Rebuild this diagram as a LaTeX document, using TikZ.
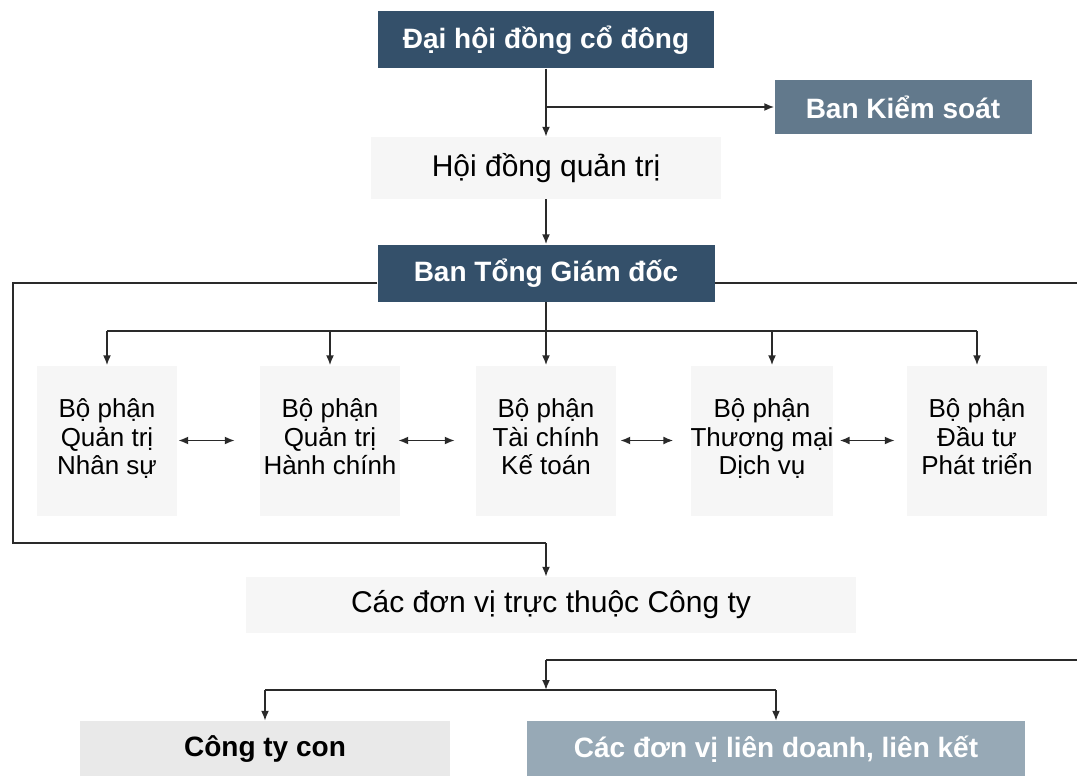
\documentclass[tikz,border=0pt]{standalone}
\usepackage{fontspec}
\setmainfont{Liberation Sans}
\usetikzlibrary{arrows.meta,calc}
\definecolor{navy}{HTML}{34506A}
\definecolor{steel}{HTML}{62798C}
\definecolor{paleblue}{HTML}{97A9B6}
\definecolor{lightgrey}{HTML}{E9E9E9}
\definecolor{faint}{HTML}{F6F6F6}
\definecolor{linec}{HTML}{2A2A2A}
\newcommand{\lastdepth}{\rule[-7pt]{0pt}{7pt}}
\begin{document}
\begin{tikzpicture}[x=1pt,y=-1pt,
  conn/.style={draw=linec, line width=1.8pt},
  arr/.style={conn,-{Latex[length=10pt,width=8pt]}},
  darr/.style={conn,{Latex[length=10pt,width=8pt]}-{Latex[length=10pt,width=8pt]}},
  boldtxt/.style={font=\bfseries\fontsize{28}{32}\selectfont},
  darkbox/.style={rectangle, fill=navy, text=white, boldtxt, inner sep=0pt},
  midbox/.style={rectangle, fill=steel, text=white, boldtxt, inner sep=0pt},
  paleboxw/.style={rectangle, fill=paleblue, text=white, boldtxt, inner sep=0pt},
  greybox/.style={rectangle, fill=lightgrey, text=black, boldtxt, inner sep=0pt},
  plainbox/.style={rectangle, fill=faint, text=black, font=\fontsize{30}{34}\selectfont, inner sep=0pt},
  dept/.style={rectangle, fill=faint, text=black, align=center, font=\fontsize{26}{28.5}\selectfont,
    minimum width=140pt, minimum height=150pt, inner sep=0pt}
]
\useasboundingbox[fill=white] (0,0) rectangle (1077,776);

% main nodes
\node[darkbox, minimum width=336pt, minimum height=57pt] (dhd) at (546,40) {Đại hội đồng cổ đông};
\node[midbox, minimum width=257pt, minimum height=54pt] (bks) at (903,107) {Ban Kiểm soát};
\node[plainbox, minimum width=350pt, minimum height=62pt] (hdqt) at (546,168) {Hội đồng quản trị};
\node[darkbox, minimum width=337pt, minimum height=57pt] (btgd) at (546,273) {Ban Tổng Giám đốc};

% departments
\node[dept] (d1) at (107,440.5) {Bộ phận\\Quản trị\\Nhân sự\lastdepth};
\node[dept] (d2) at (330,440.5) {Bộ phận\\Quản trị\\Hành chính\lastdepth};
\node[dept] (d3) at (546,440.5) {Bộ phận\\Tài chính\\Kế toán\lastdepth};
\node[dept] (d4) at (762,440.5) {Bộ phận\\Thương mại\\Dịch vụ\lastdepth};
\node[dept] (d5) at (977,440.5) {Bộ phận\\Đầu tư\\Phát triển\lastdepth};

\node[plainbox, minimum width=610pt, minimum height=56pt] (dvtt) at (551,605) {Các đơn vị trực thuộc Công ty};

\node[greybox, minimum width=370pt, minimum height=56pt] (ctc) at (265,749) {Công ty con};
\node[paleboxw, minimum width=498pt, minimum height=56pt] (lk) at (776,749) {Các đơn vị liên doanh, liên kết};

% coordinates
\coordinate (j1) at (dhd.south |- bks.west);
\coordinate (bus) at (546,331);
\coordinate (d4in) at ($(d4.north)+(10,0)$);
\coordinate (lt) at (13,283);
\coordinate (lb) at (13,543);
\coordinate (mb) at (546,543);
\coordinate (rt) at (1077,283);
\coordinate (rb) at (1077,660);
\coordinate (rm) at (546,660);
\coordinate (jb) at (546,690);

% top connectors
\draw[arr] (dhd.south) -- (hdqt.north);
\draw[arr] (j1) -- (bks.west);
\draw[arr] (hdqt.south) -- (btgd.north);

% department bus
\draw[arr] (btgd.south) -- (d3.north);
\draw[conn] (d1.north |- bus) -- (d5.north |- bus);
\draw[arr] (d1.north |- bus) -- (d1.north);
\draw[arr] (d2.north |- bus) -- (d2.north);
\draw[arr] (d4in |- bus) -- (d4in);
\draw[arr] (d5.north |- bus) -- (d5.north);

% horizontal links between departments
\draw[darr] ($(d1.east)+(1,0)$) -- ($(d2.west)+(-25,0)$);
\draw[darr] ($(d2.east)+(-2,0)$) -- ($(d3.west)+(-21,0)$);
\draw[darr] ($(d3.east)+(4,0)$) -- ($(d4.west)+(-17,0)$);
\draw[darr] ($(d4.east)+(6,0)$) -- ($(d5.west)+(-12,0)$);

% outer loop from Ban Tong Giam doc
\draw[conn] ($(btgd.west)+(0,10)$) -- (lt) -- (lb) -- (mb);
\draw[arr] (mb) -- (mb |- dvtt.north);
\draw[conn] ($(btgd.east)+(0,10)$) -- (rt);

% bottom
\draw[conn] (rb) -- (rm);
\draw[arr] (rm) -- (jb);
\draw[conn] (ctc.north |- jb) -- (lk.north |- jb);
\draw[arr] (ctc.north |- jb) -- (ctc.north);
\draw[arr] (lk.north |- jb) -- (lk.north);
\end{tikzpicture}
\end{document}
